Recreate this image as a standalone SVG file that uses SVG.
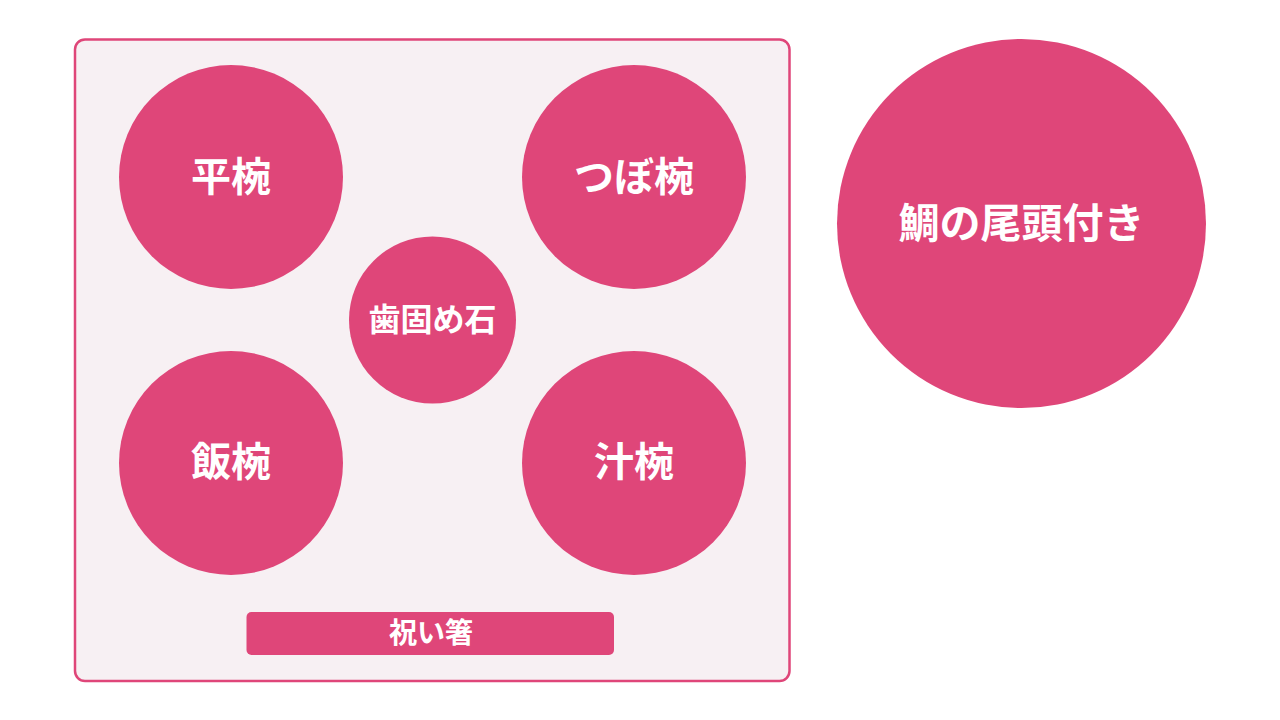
<svg xmlns="http://www.w3.org/2000/svg" width="1280" height="720" viewBox="0 0 1280 720">
<style>
.dish{fill:#df4679;}
.lbl{fill:#ffffff;font-family:"Noto Sans CJK JP","Noto Sans",sans-serif;font-weight:700;text-anchor:middle;dominant-baseline:central;}
</style>
<rect width="1280" height="720" fill="#ffffff"/>
<g id="tray">
<rect x="75" y="39.5" width="714.5" height="641.5" rx="10" fill="#f7f0f3" stroke="#df4679" stroke-width="2.5"/>
</g>
<g id="hirawan">
<circle class="dish" cx="231" cy="177" r="112"/>
<text class="lbl" x="231" y="174" font-size="40">平椀</text>
</g>
<g id="tsubowan">
<circle class="dish" cx="634" cy="177" r="112"/>
<text class="lbl" x="634" y="174" font-size="40">つぼ椀</text>
</g>
<g id="hagatameishi">
<circle class="dish" cx="432.5" cy="320" r="83.5"/>
<text class="lbl" x="432.5" y="317" font-size="32">歯固め石</text>
</g>
<g id="meshiwan">
<circle class="dish" cx="231" cy="463" r="112"/>
<text class="lbl" x="231" y="459" font-size="40">飯椀</text>
</g>
<g id="shiruwan">
<circle class="dish" cx="634" cy="463" r="112"/>
<text class="lbl" x="634" y="459" font-size="40">汁椀</text>
</g>
<g id="iwaibashi">
<rect class="dish" x="246.5" y="612" width="367.5" height="43" rx="5"/>
<text class="lbl" x="431" y="631" font-size="28">祝い箸</text>
</g>
<g id="tai">
<circle class="dish" cx="1021.5" cy="223.5" r="184.5"/>
<text class="lbl" x="1021.5" y="220" font-size="41">鯛の尾頭付き</text>
</g>
</svg>
